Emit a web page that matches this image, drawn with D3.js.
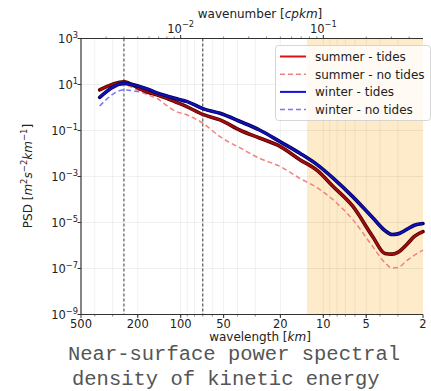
<!DOCTYPE html>
<html>
<head>
<meta charset="utf-8">
<script src="https://cdn.jsdelivr.net/npm/d3@7"></script>
<style>
  body { margin: 0; background: #fff; }
  svg { display: block; font-family: "DejaVu Sans", sans-serif; }
</style>
</head>
<body>
<svg id="chart" width="431" height="391"></svg>
<script>
// wavelength grid [km]
const wavelengths = [370, 250, 195, 170, 145, 125, 110, 90, 70, 53, 38, 28, 20, 14.6, 11, 8.5, 6.2, 4.5, 3.7, 3.3, 3.0, 2.6, 2.3, 2.0];
// PSD values [m2 s-2 km-1]
const summerTides   = [5.8, 13.2, 6.6, 4.6, 3.5, 2.5, 1.8, 1.07, 0.50, 0.29, 0.10, 0.047, 0.020, 5.4e-3, 1.8e-3, 3.6e-4, 5.0e-5, 2.4e-6, 4.5e-7, 4.2e-7, 5.0e-7, 1.1e-6, 2.5e-6, 4.0e-6];
const summerNoTides = [2.5, 9.5, 5.2, 3.5, 2.4, 1.2, 0.71, 0.47, 0.21, 0.054, 0.017, 6.2e-3, 2.7e-3, 8.3e-4, 3.2e-4, 9.5e-5, 1.3e-5, 8.9e-7, 1.8e-7, 1.05e-7, 1.1e-7, 2.2e-7, 3.8e-7, 6.3e-7];
const winterTides   = [2.75, 11.2, 8.3, 6.3, 4.2, 3.2, 2.5, 1.8, 0.89, 0.56, 0.24, 0.105, 0.032, 0.0102, 3.2e-3, 8.3e-4, 1.3e-4, 1.6e-5, 4.5e-6, 3.0e-6, 3.2e-6, 5.0e-6, 7.6e-6, 9.1e-6];
const winterNoTides = [1.17, 5.8, 4.8, 4.2, 3.3, 2.6, 2.2, 1.6, 0.83, 0.52, 0.22, 0.098, 0.030, 9.5e-3, 3.0e-3, 7.8e-4, 1.2e-4, 1.5e-5, 4.2e-6, 2.8e-6, 3.0e-6, 4.7e-6, 7.1e-6, 8.5e-6];

const xMajor = [500, 200, 100, 50, 20, 10, 5, 2];
const xMinor = [400, 300, 200, 100, 90, 80, 70, 60, 50, 40, 30, 20, 10, 9, 8, 7, 6, 5, 4, 3];
const yMajorExp = [3, 1, -1, -3, -5, -7, -9];
const topMajorExp = [-2, -1];
const topMinor = [3e-3, 4e-3, 5e-3, 6e-3, 7e-3, 8e-3, 9e-3, 2e-2, 3e-2, 4e-2, 5e-2, 6e-2, 7e-2, 8e-2, 9e-2, 2e-1, 3e-1, 4e-1];
const markers = [250, 70];      // dashed vertical lines [km]
const shadeFrom = 13;           // shaded small-scale band [km]

const series = [
  { name: 'winter - no tides', values: winterNoTides, color: '#7878f0', legend: '#7878f0', dash: '5,3', width: 1.5 },
  { name: 'summer - no tides', values: summerNoTides, color: '#f28080', legend: '#f28080', dash: '5,3', width: 1.5 },
  { name: 'summer - tides', values: summerTides, color: '#a00c0c', legend: '#e01010', edge: '#4a0000', width: 2.2 },
  { name: 'winter - tides', values: winterTides, color: '#1010b8', legend: '#1010e0', edge: '#00004a', width: 2.2 }
];
const legendOrder = ['summer - tides', 'summer - no tides', 'winter - tides', 'winter - no tides'];

const pL = 81, pR = 423, pT = 38.5, pB = 314.5;
const svg = d3.select('#chart');

const x = d3.scaleLog().domain([500, 2]).range([pL, pR]);
const k = d3.scaleLog().domain([1 / 500, 1 / 2]).range([pL, pR]);
const y = d3.scaleLog().domain([1e-9, 1e3]).range([pB, pT]);

// shaded band
svg.append('rect')
  .attr('x', x(shadeFrom)).attr('y', pT)
  .attr('width', x(2) - x(shadeFrom)).attr('height', pB - pT)
  .attr('fill', '#fdebc9');

// grid
svg.append('g').selectAll('line').data(xMinor).join('line')
  .attr('x1', d => x(d)).attr('x2', d => x(d))
  .attr('y1', pT).attr('y2', pB)
  .attr('stroke', '#000').attr('stroke-opacity', 0.08).attr('stroke-width', 0.8);
svg.append('g').selectAll('line').data(yMajorExp).join('line')
  .attr('x1', pL).attr('x2', pR)
  .attr('y1', d => y(Math.pow(10, d))).attr('y2', d => y(Math.pow(10, d)))
  .attr('stroke', '#000').attr('stroke-opacity', 0.08).attr('stroke-width', 0.8);

// dashed markers
svg.append('g').selectAll('line').data(markers).join('line')
  .attr('x1', d => x(d)).attr('x2', d => x(d))
  .attr('y1', pT).attr('y2', pB)
  .attr('stroke', '#222').attr('stroke-width', 0.9).attr('stroke-dasharray', '3,2');

// lines
const line = d3.line()
  .x((d, i) => x(wavelengths[i]))
  .y(d => y(d))
  .curve(d3.curveMonotoneX);
const lines = svg.append('g');
series.forEach(s => {
  if (s.edge) {
    lines.append('path').attr('d', line(s.values))
      .attr('fill', 'none').attr('stroke', s.edge).attr('stroke-width', s.width + 1.4)
      .attr('stroke-linejoin', 'round').attr('stroke-linecap', 'round');
  }
  lines.append('path').attr('d', line(s.values))
    .attr('fill', 'none').attr('stroke', s.color).attr('stroke-width', s.width)
    .attr('stroke-dasharray', s.dash || null)
    .attr('stroke-linejoin', 'round');
});

// helper: 10^n labels
function powLabel(sel, exp, size) {
  sel.append('tspan').text('10');
  sel.append('tspan').attr('dy', -size * 0.45).attr('font-size', size * 0.72)
    .text(exp < 0 ? '\u2212' + (-exp) : exp);
}

// y axis
const yAxis = svg.append('g');
yAxis.append('line').attr('x1', pL).attr('x2', pL).attr('y1', pT).attr('y2', pB)
  .attr('stroke', '#333').attr('stroke-width', 1.2);
yMajorExp.forEach(e => {
  const yy = y(Math.pow(10, e));
  yAxis.append('line').attr('x1', pL - 3.5).attr('x2', pL).attr('y1', yy).attr('y2', yy)
    .attr('stroke', '#333');
  const t = yAxis.append('text').attr('x', pL - 3).attr('y', yy + 4.5)
    .attr('text-anchor', 'end').attr('font-size', 11.5).attr('fill', '#222');
  powLabel(t, e, 11.5);
});

// bottom axis
const xAxis = svg.append('g');
xAxis.append('line').attr('x1', pL).attr('x2', pR).attr('y1', pB).attr('y2', pB)
  .attr('stroke', '#333').attr('stroke-width', 1.2);
xMinor.forEach(d => {
  xAxis.append('line').attr('x1', x(d)).attr('x2', x(d)).attr('y1', pB).attr('y2', pB + 2)
    .attr('stroke', '#333').attr('stroke-width', 0.6);
});
xMajor.forEach(d => {
  xAxis.append('line').attr('x1', x(d)).attr('x2', x(d)).attr('y1', pB).attr('y2', pB + 3.5)
    .attr('stroke', '#333');
  xAxis.append('text').attr('x', x(d)).attr('y', pB + 13)
    .attr('text-anchor', 'middle').attr('font-size', 11.5).attr('fill', '#222').text(d);
});
const xl = svg.append('text').attr('x', 260).attr('y', 341)
  .attr('text-anchor', 'middle').attr('font-size', 12).attr('fill', '#222');
xl.append('tspan').text('wavelength [');
xl.append('tspan').attr('font-style', 'italic').text('km');
xl.append('tspan').text(']');

// top axis
const tAxis = svg.append('g');
tAxis.append('line').attr('x1', pL).attr('x2', pR).attr('y1', pT).attr('y2', pT)
  .attr('stroke', '#333').attr('stroke-width', 1.2);
topMinor.forEach(d => {
  tAxis.append('line').attr('x1', k(d)).attr('x2', k(d)).attr('y1', pT).attr('y2', pT - 2)
    .attr('stroke', '#333').attr('stroke-width', 0.6);
});
topMajorExp.forEach(e => {
  const xx = k(Math.pow(10, e));
  tAxis.append('line').attr('x1', xx).attr('x2', xx).attr('y1', pT).attr('y2', pT - 3.5)
    .attr('stroke', '#333');
  const t = tAxis.append('text').attr('x', xx).attr('y', pT - 6)
    .attr('text-anchor', 'middle').attr('font-size', 11.5).attr('fill', '#222');
  powLabel(t, e, 11.5);
});
const tl = svg.append('text').attr('x', 260).attr('y', 18)
  .attr('text-anchor', 'middle').attr('font-size', 12).attr('fill', '#222');
tl.append('tspan').text('wavenumber [');
tl.append('tspan').attr('font-style', 'italic').text('cpkm');
tl.append('tspan').text(']');

// y label
const yl = svg.append('text').attr('transform', 'translate(32,176) rotate(-90)')
  .attr('text-anchor', 'middle').attr('font-size', 12).attr('fill', '#222');
yl.append('tspan').text('PSD [');
yl.append('tspan').attr('font-style', 'italic').text('m');
yl.append('tspan').attr('dy', -5).attr('font-size', 8.5).text('2');
yl.append('tspan').attr('dy', 5).attr('font-style', 'italic').text('s');
yl.append('tspan').attr('dy', -5).attr('font-size', 8.5).text('\u22122');
yl.append('tspan').attr('dy', 5).attr('font-style', 'italic').text('km');
yl.append('tspan').attr('dy', -5).attr('font-size', 8.5).text('\u22121');
yl.append('tspan').attr('dy', 5).text(']');

// legend
const lg = svg.append('g');
lg.append('rect').attr('x', 275.5).attr('y', 45.5).attr('width', 155).attr('height', 75)
  .attr('rx', 3).attr('fill', '#fff').attr('fill-opacity', 0.8)
  .attr('stroke', '#ccc').attr('stroke-width', 0.8);
legendOrder.forEach((name, i) => {
  const s = series.find(d => d.name === name);
  const yy = 56.5 + i * 17.7;
  lg.append('line').attr('x1', 280).attr('x2', 306).attr('y1', yy).attr('y2', yy)
    .attr('stroke', s.legend).attr('stroke-width', s.dash ? 1.5 : 2)
    .attr('stroke-dasharray', s.dash || null);
  lg.append('text').attr('x', 315).attr('y', yy + 4.3).attr('font-size', 12)
    .attr('fill', '#222').text(name);
});

// caption
const cap = svg.append('g').attr('font-family', '"Liberation Mono", "Courier New", monospace')
  .attr('font-size', 20.5).attr('fill', '#555');
cap.append('text').attr('x', 68).attr('y', 360).text('Near-surface power spectral');
cap.append('text').attr('x', 72).attr('y', 384.5).text('density of kinetic energy');
</script>
</body>
</html>
